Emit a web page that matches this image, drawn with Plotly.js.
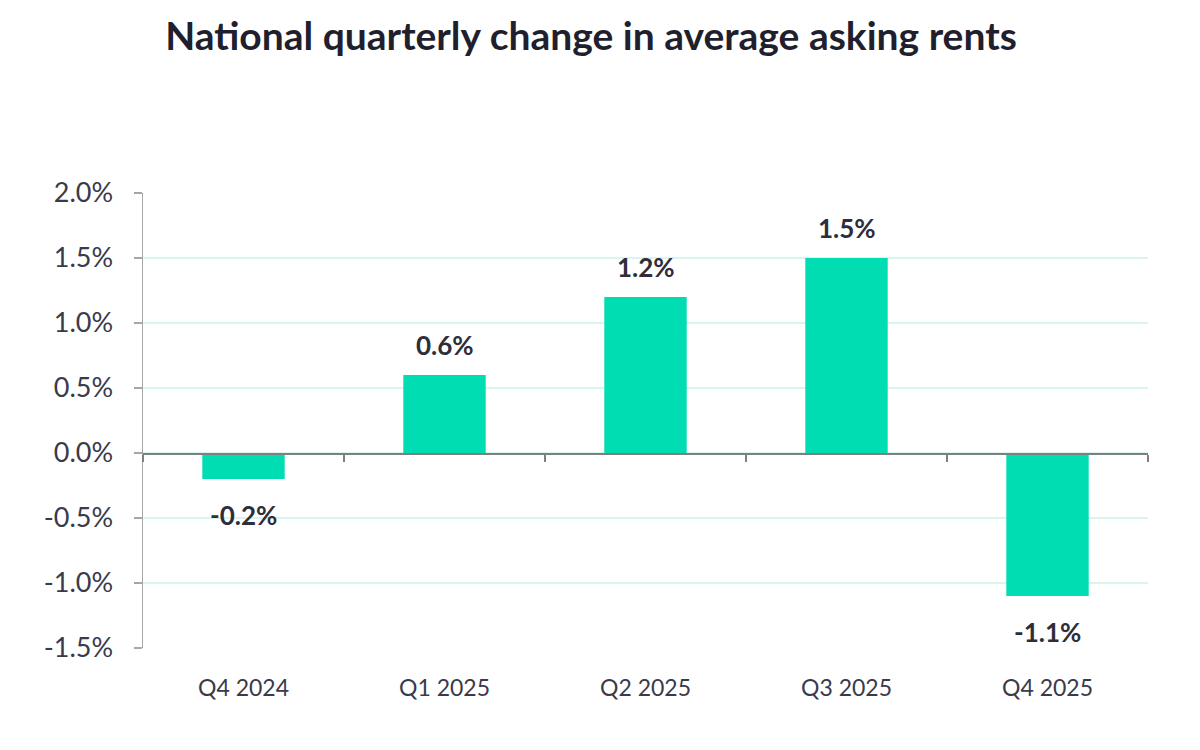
<!DOCTYPE html>
<html>
<head>
<meta charset="utf-8">
<script src="https://cdn.plot.ly/plotly-3.0.1.min.js"></script>
<style>html,body{margin:0;padding:0;background:#fff;}#chart{width:1200px;height:750px;}</style>
</head>
<body>
<div id="chart"></div>
<script>
const categories = ["Q4 2024", "Q1 2025", "Q2 2025", "Q3 2025", "Q4 2025"];
const values = [-0.2, 0.6, 1.2, 1.5, -1.1];
const labels = ["-0.2%", "0.6%", "1.2%", "1.5%", "-1.1%"];
const yTickVals = [-1.5, -1.0, -0.5, 0, 0.5, 1.0, 1.5, 2.0];
const yTickText = ["-1.5%", "-1.0%", "-0.5%", "0.0%", "0.5%", "1.0%", "1.5%", "2.0%"];

const FONT = "Lato, 'Open Sans', sans-serif";
const barColor = "#00DDB3";

const bars = {
  type: "bar",
  x: categories,
  y: values,
  width: 0.41,
  marker: {color: barColor},
  hoverinfo: "skip"
};
const axisHelper = {
  type: "bar",
  x: categories,
  y: values,
  xaxis: "x2",
  yaxis: "y",
  width: 0.41,
  marker: {color: "rgba(0,0,0,0)"},
  hoverinfo: "skip",
  showlegend: false
};

const annotations = categories.map((c, i) => ({
  x: c, y: values[i], xref: "x", yref: "y",
  text: "<b>" + labels[i] + "</b>",
  showarrow: false,
  yshift: values[i] >= 0 ? 30 : -36,
  font: {family: FONT, size: 26, color: "#2e2e3a"}
}));

const layout = {
  width: 1200, height: 750,
  margin: {l: 143, r: 52, t: 193, b: 102},
  paper_bgcolor: "#ffffff",
  plot_bgcolor: "#ffffff",
  showlegend: false,
  title: {
    text: "<b>National quarterly change in average asking rents</b>",
    x: 0.4925, xref: "container", xanchor: "center",
    y: 0.952, yref: "container", yanchor: "middle",
    font: {family: FONT, size: 39, color: "#1f1f2e"}
  },
  xaxis: {
    type: "category",
    showline: false, showgrid: false, zeroline: false,
    ticks: "",
    tickfont: {family: FONT, size: 23, color: "#3a3a4a"},
    ticklabelstandoff: 24
  },
  xaxis2: {
    type: "category",
    overlaying: "x",
    matches: "x",
    anchor: "free",
    position: 1.5 / 3.5,
    side: "bottom",
    showline: true, linecolor: "#7f7f7f", linewidth: 1.5,
    ticks: "outside", ticklen: 7, tickwidth: 1.5, tickcolor: "#7f7f7f",
    tickson: "boundaries",
    showticklabels: false, showgrid: false, zeroline: false
  },
  yaxis: {
    range: [-1.5, 2.0],
    tickvals: yTickVals, ticktext: yTickText,
    showgrid: true, gridcolor: "#d8f6ef", gridwidth: 1.5,
    zeroline: false,
    showline: true, linecolor: "#a6a6a6", linewidth: 1.5,
    ticks: "outside", ticklen: 8, tickcolor: "#a6a6a6", tickwidth: 1.5,
    tickfont: {family: FONT, size: 27, color: "#3a3a4a"},
    ticklabelstandoff: 15
  },
  annotations: annotations,
  bargap: 0.59
};

Plotly.newPlot("chart", [bars, axisHelper], layout, {displayModeBar: false, staticPlot: true});
</script>
</body>
</html>
